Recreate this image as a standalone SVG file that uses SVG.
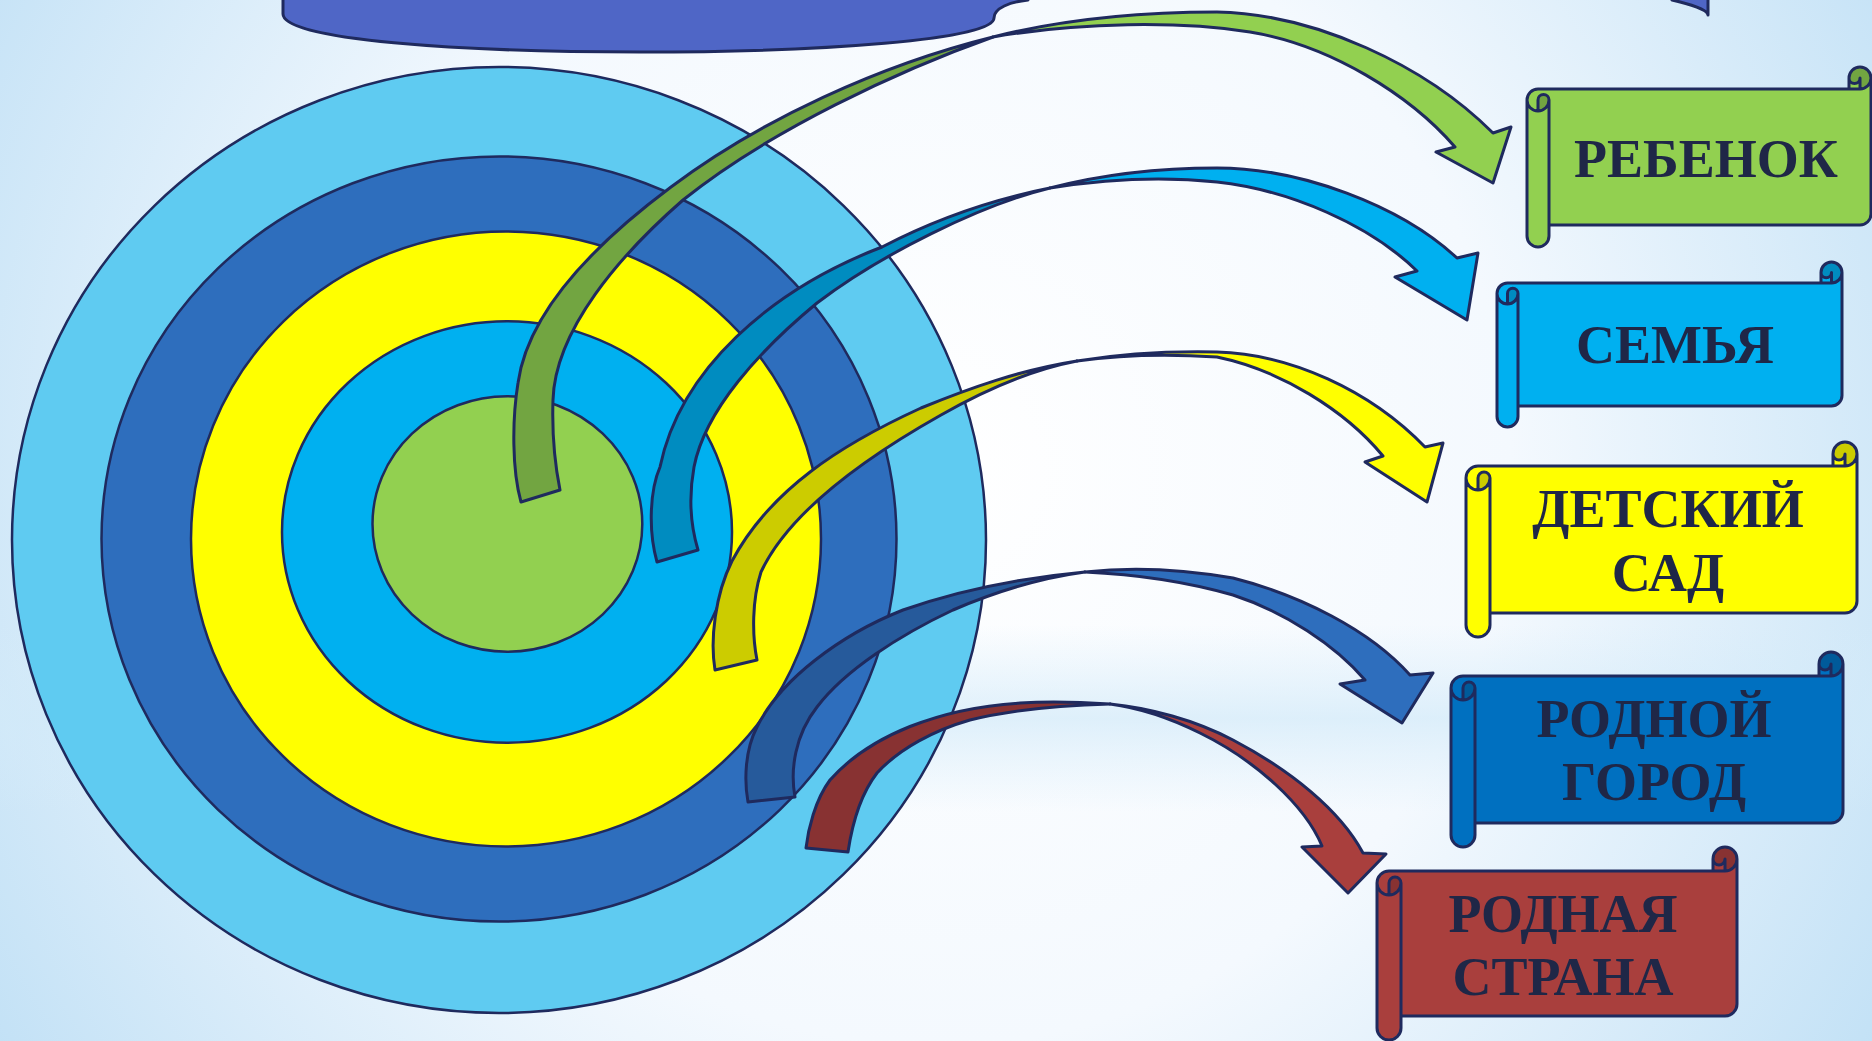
<svg xmlns="http://www.w3.org/2000/svg" width="1872" height="1041" viewBox="0 0 1872 1041">
<defs>
<radialGradient id="bg" cx="936" cy="470" r="1150" gradientUnits="userSpaceOnUse">
<stop offset="0" stop-color="#FFFFFF"/>
<stop offset="0.5" stop-color="#F4F9FE"/>
<stop offset="1" stop-color="#BEDFF5"/>
</radialGradient>
<linearGradient id="band" x1="0" y1="0" x2="0" y2="1041" gradientUnits="userSpaceOnUse">
<stop offset="0" stop-color="#D6ECFA" stop-opacity="0"/>
<stop offset="0.6" stop-color="#D6ECFA" stop-opacity="0"/>
<stop offset="0.69" stop-color="#D2EAF9" stop-opacity="0.7"/>
<stop offset="0.78" stop-color="#D6ECFA" stop-opacity="0"/>
<stop offset="1" stop-color="#D6ECFA" stop-opacity="0"/>
</linearGradient>
</defs>
<style>
.ol{stroke:#1F2A5E;stroke-width:3;stroke-linejoin:round}
.ring{stroke:#1F2A5E;stroke-width:2.5}
.so{fill:none;stroke:#1F2A5E;stroke-width:3;stroke-linejoin:round;stroke-linecap:round}
.nf{stroke:none}
.lbl{font-family:"Liberation Serif","Times New Roman",serif;font-weight:bold;font-size:54px;fill:#1F2747;text-anchor:middle}
</style>
<g id="background">
<rect x="0" y="0" width="1872" height="1041" fill="url(#bg)"/>
<rect x="0" y="0" width="1872" height="1041" fill="url(#band)"/>
</g>
<g id="top-banner">
<path d="M283,0 L283,14 C283,40 460,52 640,52 C820,52 994,40 994,18 C994,8 1010,2 1028,0 Z" fill="#4F66C6" class="nf"/>
<path d="M283,0 L283,14 C283,40 460,52 640,52 C820,52 994,40 994,18 C994,8 1010,2 1028,0" class="so"/>
<path d="M1672,0 C1690,4 1708,10 1708,15 L1708,0 Z" fill="#4F66C6" class="nf"/>
<path d="M1672,0 C1690,4 1708,10 1708,15 L1708,0" class="so"/>
</g>
<g id="target">
<ellipse cx="499" cy="540" rx="487" ry="473" fill="#5FCBF1" class="ring"/>
<ellipse cx="499" cy="539" rx="397.5" ry="382.6" fill="#2E6EBD" class="ring"/>
<ellipse cx="506" cy="539" rx="315" ry="307.5" fill="#FFFF00" class="ring"/>
<ellipse cx="507" cy="532" rx="225" ry="210.7" fill="#00B0F0" class="ring"/>
<ellipse cx="507.4" cy="524" rx="134.9" ry="127.7" fill="#92D050" class="ring"/>
</g>
<g id="connectors">
<g id="arrow-rebenok">
<path class="ol" fill="#72A541" d="M521,502 C512,470 512,420 518,383 C528,310 600,240 671,187 C760,120 880,65 993,37 C900,70 770,130 683,200 C620,255 555,330 553,400 C552,430 555,465 560,490 Z"/>
<path class="ol" fill="#92D050" d="M993,37 C1060,20 1140,12 1217,12 C1315,14 1425,65 1493,133 L1511,127 L1493,183 L1436,152 L1455,147 C1410,95 1330,45 1250,32 C1180,21 1080,22 993,37 Z"/>
</g>
<g id="arrow-semya">
<path class="ol" fill="#008CC0" d="M657,562 C648,530 650,490 660,467 C680,370 770,290 882,247 C930,222 990,200 1050,188 C980,205 880,255 817,303 C760,350 705,410 694,467 C688,500 692,530 698,550 Z"/>
<path class="ol" fill="#00B0F0" d="M1050,188 C1100,175 1160,168 1217,168 C1300,168 1400,205 1457,258 L1478,253 L1467,320 L1395,277 L1417,271 C1370,225 1290,190 1217,182 C1160,176 1100,180 1050,188 Z"/>
</g>
<g id="arrow-sad">
<path class="ol" fill="#CCCC00" d="M715,670 C710,640 715,595 732,561 C770,490 840,445 921,408 C970,388 1020,370 1077,361 C1030,370 985,390 941,415 C870,455 790,510 761,572 C752,600 752,635 757,660 Z"/>
<path class="ol" fill="#FFFF00" d="M1077,361 C1120,354 1170,351 1217,352 C1290,354 1370,390 1425,447 L1443,443 L1427,502 L1365,462 L1383,456 C1345,410 1280,370 1217,357 C1170,354 1120,355 1077,361 Z"/>
</g>
<g id="arrow-gorod">
<path class="ol" fill="#265A9B" d="M748,802 C744,780 745,750 757,727 C780,680 840,635 903,610 C960,590 1020,578 1085,572 C1040,578 995,592 953,610 C900,635 845,670 817,707 C795,735 790,770 795,797 Z"/>
<path class="ol" fill="#2E6EBD" d="M1085,572 C1120,568 1170,567 1233,578 C1300,595 1370,630 1410,675 L1433,673 L1402,723 L1340,684 L1365,680 C1335,645 1285,612 1233,595 C1180,580 1130,574 1085,572 Z"/>
</g>
<g id="arrow-strana">
<path class="ol" fill="#883232" d="M806,848 C808,830 815,800 830,780 C870,735 940,708 1020,703 C1050,701 1080,702 1110,704 C1070,705 1020,708 970,720 C935,730 900,748 877,773 C860,795 852,825 848,852 Z"/>
<path class="ol" fill="#A93F3D" d="M1110,704 C1150,708 1195,720 1233,740 C1290,770 1340,810 1363,853 L1386,854 L1348,893 L1302,847 L1322,846 C1305,805 1255,760 1200,733 C1170,718 1140,708 1110,704 Z"/>
</g>
</g>
<g id="node-rebenok" transform="translate(1527,67)">
<path class="nf" fill="#92D050" d="M344,11 A11,11 0 0 1 333,22 L333,11 A5.5,5.5 0 0 1 322,11 L322,22 L11,22 A11,11 0 0 0 0,33 L0,169 A11,11 0 0 0 22,169 L22,158 L333,158 A11,11 0 0 0 344,147 Z M11,44 A11,11 0 0 0 22,33 A5.5,5.5 0 0 0 11,33 Z"/>
<path class="nf" fill="#72A541" d="M11,44 A11,11 0 0 0 22,33 A5.5,5.5 0 0 0 11,33 Z M333,22 A11,11 0 1 0 322,11 A5.5,5.5 0 0 0 333,11 Z"/>
<path class="so" d="M0,33 A11,11 0 0 1 11,22 L322,22 L322,11 A11,11 0 0 1 344,11 L344,147 A11,11 0 0 1 333,158 L22,158 L22,169 A11,11 0 0 1 0,169 Z M322,22 L333,22 A11,11 0 0 0 344,11 M333,22 L333,11 A5.5,5.5 0 0 1 322,11 M11,44 L11,33 A5.5,5.5 0 0 1 22,33 A11,11 0 0 1 0,33 M22,33 L22,158"/>
<text class="lbl" x="179" y="110">РЕБЕНОК</text>
</g>
<g id="node-semya" transform="translate(1497,262)">
<path class="nf" fill="#00B0F0" d="M345,10.5 A10.5,10.5 0 0 1 334.5,21 L334.5,10.5 A5.25,5.25 0 0 1 324,10.5 L324,21 L10.5,21 A10.5,10.5 0 0 0 0,31.5 L0,154.5 A10.5,10.5 0 0 0 21,154.5 L21,144 L334.5,144 A10.5,10.5 0 0 0 345,133.5 Z M10.5,42 A10.5,10.5 0 0 0 21,31.5 A5.25,5.25 0 0 0 10.5,31.5 Z"/>
<path class="nf" fill="#008CC0" d="M10.5,42 A10.5,10.5 0 0 0 21,31.5 A5.25,5.25 0 0 0 10.5,31.5 Z M334.5,21 A10.5,10.5 0 1 0 324,10.5 A5.25,5.25 0 0 0 334.5,10.5 Z"/>
<path class="so" d="M0,31.5 A10.5,10.5 0 0 1 10.5,21 L324,21 L324,10.5 A10.5,10.5 0 0 1 345,10.5 L345,133.5 A10.5,10.5 0 0 1 334.5,144 L21,144 L21,154.5 A10.5,10.5 0 0 1 0,154.5 Z M324,21 L334.5,21 A10.5,10.5 0 0 0 345,10.5 M334.5,21 L334.5,10.5 A5.25,5.25 0 0 1 324,10.5 M10.5,42 L10.5,31.5 A5.25,5.25 0 0 1 21,31.5 A10.5,10.5 0 0 1 0,31.5 M21,31.5 L21,144"/>
<text class="lbl" x="178" y="101">СЕМЬЯ</text>
</g>
<g id="node-sad" transform="translate(1466,442)">
<path class="nf" fill="#FFFF00" d="M391,12 A12,12 0 0 1 379,24 L379,12 A6,6 0 0 1 367,12 L367,24 L12,24 A12,12 0 0 0 0,36 L0,183 A12,12 0 0 0 24,183 L24,171 L379,171 A12,12 0 0 0 391,159 Z M12,48 A12,12 0 0 0 24,36 A6,6 0 0 0 12,36 Z"/>
<path class="nf" fill="#CCCC00" d="M12,48 A12,12 0 0 0 24,36 A6,6 0 0 0 12,36 Z M379,24 A12,12 0 1 0 367,12 A6,6 0 0 0 379,12 Z"/>
<path class="so" d="M0,36 A12,12 0 0 1 12,24 L367,24 L367,12 A12,12 0 0 1 391,12 L391,159 A12,12 0 0 1 379,171 L24,171 L24,183 A12,12 0 0 1 0,183 Z M367,24 L379,24 A12,12 0 0 0 391,12 M379,24 L379,12 A6,6 0 0 1 367,12 M12,48 L12,36 A6,6 0 0 1 24,36 A12,12 0 0 1 0,36 M24,36 L24,171"/>
<text class="lbl" x="202" y="85">ДЕТСКИЙ</text>
<text class="lbl" x="202" y="149">САД</text>
</g>
<g id="node-gorod" transform="translate(1451,652)">
<path class="nf" fill="#0070C0" d="M392,12 A12,12 0 0 1 380,24 L380,12 A6,6 0 0 1 368,12 L368,24 L12,24 A12,12 0 0 0 0,36 L0,183 A12,12 0 0 0 24,183 L24,171 L380,171 A12,12 0 0 0 392,159 Z M12,48 A12,12 0 0 0 24,36 A6,6 0 0 0 12,36 Z"/>
<path class="nf" fill="#005A9A" d="M12,48 A12,12 0 0 0 24,36 A6,6 0 0 0 12,36 Z M380,24 A12,12 0 1 0 368,12 A6,6 0 0 0 380,12 Z"/>
<path class="so" d="M0,36 A12,12 0 0 1 12,24 L368,24 L368,12 A12,12 0 0 1 392,12 L392,159 A12,12 0 0 1 380,171 L24,171 L24,183 A12,12 0 0 1 0,183 Z M368,24 L380,24 A12,12 0 0 0 392,12 M380,24 L380,12 A6,6 0 0 1 368,12 M12,48 L12,36 A6,6 0 0 1 24,36 A12,12 0 0 1 0,36 M24,36 L24,171"/>
<text class="lbl" x="203" y="85">РОДНОЙ</text>
<text class="lbl" x="203" y="148">ГОРОД</text>
</g>
<g id="node-strana" transform="translate(1377,847)">
<path class="nf" fill="#A93F3D" d="M360,12 A12,12 0 0 1 348,24 L348,12 A6,6 0 0 1 336,12 L336,24 L12,24 A12,12 0 0 0 0,36 L0,181 A12,12 0 0 0 24,181 L24,169 L348,169 A12,12 0 0 0 360,157 Z M12,48 A12,12 0 0 0 24,36 A6,6 0 0 0 12,36 Z"/>
<path class="nf" fill="#883232" d="M12,48 A12,12 0 0 0 24,36 A6,6 0 0 0 12,36 Z M348,24 A12,12 0 1 0 336,12 A6,6 0 0 0 348,12 Z"/>
<path class="so" d="M0,36 A12,12 0 0 1 12,24 L336,24 L336,12 A12,12 0 0 1 360,12 L360,157 A12,12 0 0 1 348,169 L24,169 L24,181 A12,12 0 0 1 0,181 Z M336,24 L348,24 A12,12 0 0 0 360,12 M348,24 L348,12 A6,6 0 0 1 336,12 M12,48 L12,36 A6,6 0 0 1 24,36 A12,12 0 0 1 0,36 M24,36 L24,169"/>
<text class="lbl" x="186" y="85">РОДНАЯ</text>
<text class="lbl" x="186" y="148">СТРАНА</text>
</g>
</svg>
